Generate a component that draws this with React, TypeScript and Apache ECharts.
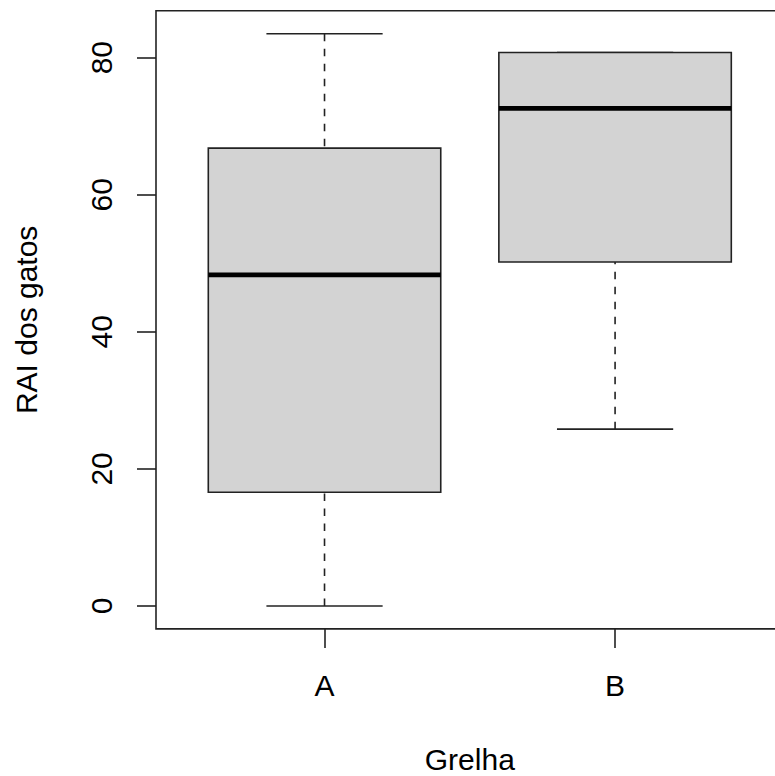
import React, { useEffect, useRef } from "react";
import * as echarts from "echarts";

const categories = ["A", "B"];
// [min, q1, median, q3, max]
const boxStats = [
  [0, 16.6, 48.3, 66.8, 83.5],
  [25.8, 50.2, 72.6, 80.75, 80.75],
];
const yTicks = [0, 20, 40, 60, 80];
const xTitle = "Grelha";
const yTitle = "RAI dos gatos";

const FONT = "Liberation Sans, Arial, sans-serif";

export default function App() {
  const ref = useRef<HTMLDivElement>(null);
  useEffect(() => {
    if (!ref.current) return;
    const chart = echarts.init(ref.current, undefined, { renderer: "svg" });
    const allVals = boxStats.flat();
    const lo = Math.min(...allVals);
    const hi = Math.max(...allVals);
    const pad = (hi - lo) * 0.04;
    const n = categories.length;
    const xPad = n * 0.04;
    const data = boxStats.map((s, i) => [i + 1, ...s]);
    const BOX_W = 0.8;
    const lineColor = "#222";
    chart.setOption({
      animation: false,
      textStyle: { fontFamily: FONT },
      grid: {
        left: 156,
        top: 10.8,
        right: -8.6,
        bottom: 147.1,
        show: true,
        borderColor: lineColor,
        borderWidth: 1.6,
        backgroundColor: "transparent",
        containLabel: false,
        outerBoundsMode: "none",
      },
      xAxis: {
        type: "value",
        min: 0.5 - xPad,
        max: n + 0.5 + xPad,
        splitLine: { show: false },
        axisLine: { show: false, onZero: false },
        axisTick: {
          show: true,
          customValues: categories.map((_, i) => i + 1),
          length: 19,
          inside: false,
          lineStyle: { color: lineColor, width: 1.6 },
        },
        axisLabel: {
          show: true,
          customValues: categories.map((_, i) => i + 1),
          formatter: (v: number) => categories[Math.round(v) - 1] ?? "",
          fontSize: 30,
          fontFamily: FONT,
          color: "#000",
          margin: 42,
        },
        name: xTitle,
        nameLocation: "middle",
        nameGap: 116,
        nameTextStyle: { fontSize: 30, fontFamily: FONT, color: "#000" },
      },
      yAxis: {
        type: "value",
        min: lo - pad,
        max: hi + pad,
        splitLine: { show: false },
        axisLine: { show: false, onZero: false },
        axisTick: {
          show: true,
          customValues: yTicks,
          length: 19,
          lineStyle: { color: lineColor, width: 1.6 },
        },
        axisLabel: {
          show: true,
          customValues: yTicks,
          rotate: 90,
          fontSize: 30,
          fontFamily: FONT,
          color: "#000",
          margin: 40,
        },
        name: yTitle,
        nameLocation: "middle",
        nameRotate: 90,
        nameGap: 115,
        nameTextStyle: { fontSize: 30, fontFamily: FONT, color: "#000" },
      },
      series: [
        {
          type: "custom",
          data,
          clip: false,
          renderItem: (params: any, api: any) => {
            const x = api.value(0);
            const c = (v: number) => api.coord([x, v]);
            const pMin = c(api.value(1));
            const pQ1 = c(api.value(2));
            const pMed = c(api.value(3));
            const pQ3 = c(api.value(4));
            const pMax = c(api.value(5));
            const bw = api.size([BOX_W, 0])[0];
            const half = bw / 2;
            const capHalf = bw / 4;
            const cx = pMed[0];
            const thin = { stroke: lineColor, lineWidth: 1.6 };
            const dashed = { stroke: lineColor, lineWidth: 1.6, lineDash: [7.5, 7.5] };
            const children: any[] = [];
            if (pMax[1] < pQ3[1] - 0.5) {
              children.push({
                type: "line",
                shape: { x1: cx, y1: pMax[1], x2: cx, y2: pQ3[1] },
                style: dashed,
              });
            }
            children.push({
              type: "line",
              shape: { x1: cx, y1: pMin[1], x2: cx, y2: pQ1[1] },
              style: dashed,
            });
            children.push({
              type: "line",
              shape: { x1: cx - capHalf, y1: pMax[1], x2: cx + capHalf, y2: pMax[1] },
              style: thin,
            });
            children.push({
              type: "line",
              shape: { x1: cx - capHalf, y1: pMin[1], x2: cx + capHalf, y2: pMin[1] },
              style: thin,
            });
            children.push({
              type: "rect",
              shape: { x: cx - half, y: pQ3[1], width: bw, height: pQ1[1] - pQ3[1] },
              style: { fill: "#D3D3D3", stroke: lineColor, lineWidth: 1.6 },
            });
            children.push({
              type: "line",
              shape: { x1: cx - half, y1: pMed[1], x2: cx + half, y2: pMed[1] },
              style: { stroke: "#000", lineWidth: 4.8 },
            });
            return { type: "group", children };
          },
        },
      ],
    });
    return () => chart.dispose();
  }, []);
  return (
    <div
      ref={ref}
      style={{ position: "absolute", left: 0, top: 0, width: 775, height: 776, background: "#fff" }}
    />
  );
}
